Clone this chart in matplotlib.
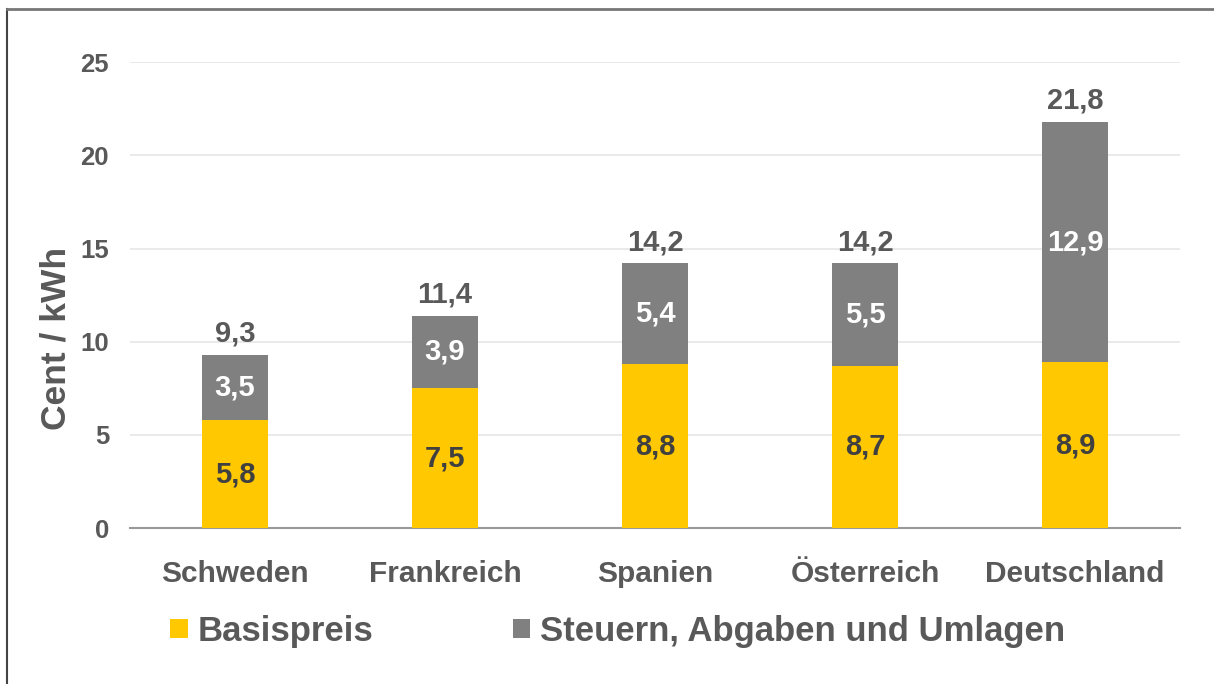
import matplotlib.pyplot as plt
import numpy as np
from matplotlib.lines import Line2D

plt.rcParams['font.family'] = ['Liberation Sans', 'DejaVu Sans']
plt.rcParams['font.weight'] = 'bold'

countries = ['Schweden', 'Frankreich', 'Spanien', 'Österreich', 'Deutschland']
basis = [5.8, 7.5, 8.8, 8.7, 8.9]
steuern = [3.5, 3.9, 5.4, 5.5, 12.9]
totals = [9.3, 11.4, 14.2, 14.2, 21.8]

yellow = '#ffc800'
grey = '#808080'
text_c = '#595959'

fig = plt.figure(figsize=(12.14, 6.84), dpi=100)
ax = fig.add_axes([0.107, 0.228, 0.865, 0.681])

x = np.arange(len(countries))
w = 0.315
ax.bar(x, basis, w, color=yellow, label='Basispreis', zorder=3)
ax.bar(x, steuern, w, bottom=basis, color=grey,
       label='Steuern, Abgaben und Umlagen', zorder=3)

for xi, b, s, t in zip(x, basis, steuern, totals):
    ax.text(xi, b / 2, f'{b:.1f}'.replace('.', ','), ha='center', va='center',
            fontsize=21, color='#404040', fontweight='bold', zorder=4)
    ax.text(xi, b + s / 2, f'{s:.1f}'.replace('.', ','), ha='center', va='center',
            fontsize=21, color='white', fontweight='bold', zorder=4)
    ax.text(xi, t + 0.4, f'{t:.1f}'.replace('.', ','), ha='center', va='bottom',
            fontsize=21, color=text_c, fontweight='bold', zorder=4)

ax.set_xlim(-0.5, 4.5)
ax.set_ylim(0, 25)
ax.set_yticks([0, 5, 10, 15, 20, 25])
ax.set_xticks(x)
ax.set_xticklabels(countries)
ax.grid(axis='y', color='#e6e6e6', linewidth=1.2, zorder=0)
for side in ['top', 'right', 'left']:
    ax.spines[side].set_visible(False)
ax.spines['bottom'].set_color('#999999')
ax.spines['bottom'].set_linewidth(1.5)
ax.tick_params(axis='y', length=0, pad=15, labelsize=18.5, labelcolor=text_c)
ax.tick_params(axis='x', length=0, pad=23, labelsize=21.5, labelcolor=text_c)
ax.set_ylabel('Cent / kWh', fontsize=25.5, color=text_c, fontweight='bold')
ax.yaxis.set_label_coords(-0.055, 0.408)

fig.legend(loc='center', bbox_to_anchor=(0.509, 0.077), ncol=2, frameon=False,
           fontsize=25, handlelength=0.5, handleheight=0.5, handletextpad=0.3,
           columnspacing=4.0, labelcolor=text_c)

# figure frame (top and left)
fig.add_artist(Line2D([0.006, 0.006], [0.0, 0.987], color='#444444', linewidth=1.5))
fig.add_artist(Line2D([0.006, 1.0], [0.987, 0.987], color='#777777', linewidth=2))

fig.savefig('out.png', dpi=100)
